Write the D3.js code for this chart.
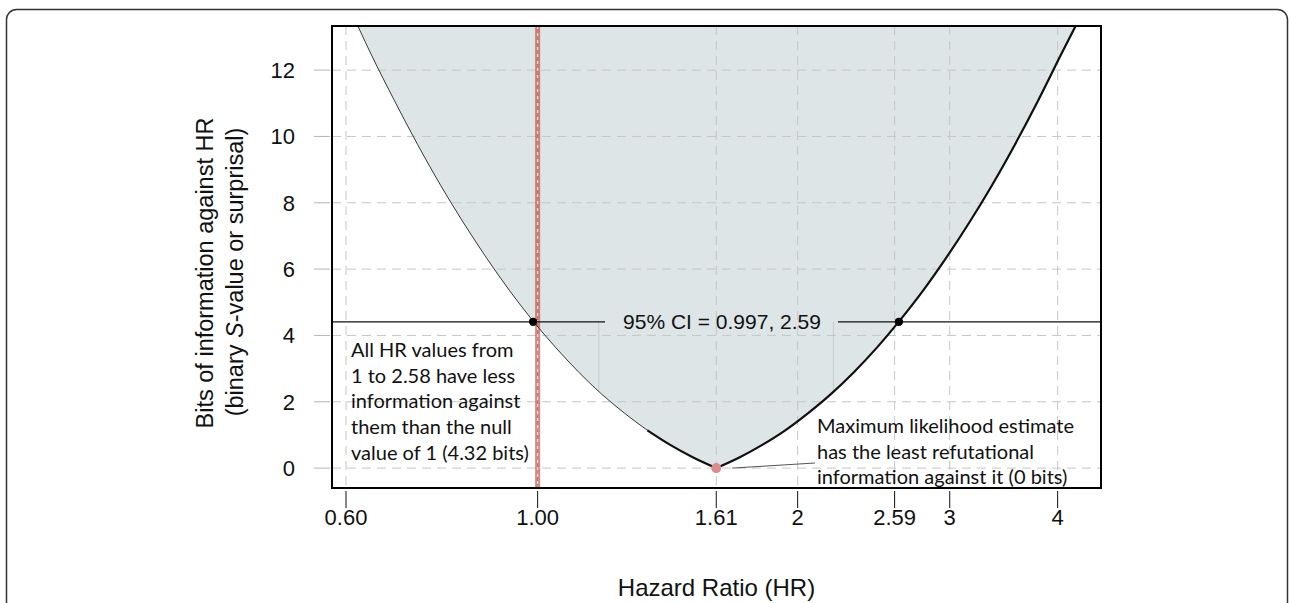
<!DOCTYPE html>
<html>
<head>
<meta charset="utf-8">
<script src="https://cdn.jsdelivr.net/npm/d3@7"></script>
<style>
    body { margin: 0; background: #fff; }
    svg text { font-family: "Liberation Sans", Arial, Helvetica, sans-serif; fill: #111; }
    .note { font-family: Lato, "Open Sans", sans-serif; font-size: 20px; }
</style>
</head>
<body>
<svg id="chart"></svg>
<script>

// S-value curve (hazard ratio, bits)
var hrValues = [0.604, 0.642, 0.683, 0.726, 0.772, 0.821, 0.873, 0.928, 0.986, 1.049, 1.115,
                1.185, 1.260, 1.340, 1.424, 1.514, 1.61, 1.712, 1.820, 1.935, 2.057, 2.187,
                2.325, 2.472, 2.628, 2.794, 2.970, 3.158, 3.358, 3.570, 3.795, 4.035, 4.315]
var bitValues = [13.95, 12.46, 11.07, 9.76, 8.53, 7.39, 6.33, 5.35, 4.46, 3.64, 2.90,
                 2.24, 1.66, 1.14, 0.70, 0.32, 0, 0.32, 0.70, 1.14, 1.66, 2.24,
                 2.90, 3.64, 4.46, 5.35, 6.33, 7.39, 8.53, 9.76, 11.07, 12.46, 13.95]

var mleHr = 1.61
var nullHr = 1
var thickFrom = 1.28
var ciBits = 4.41
var ciHr = [0.988, 2.62]
var ciLabel = "95% CI = 0.997, 2.59"
var markerHr = [1.177, 2.2]
var markerBits = [4.41, 2.31]

var xTickValues = [0.6, 1, 1.61, 2, 2.59, 3, 4]
var xTickLabels = ["0.60", "1.00", "1.61", "2", "2.59", "3", "4"]
var yTickValues = [0, 2, 4, 6, 8, 10, 12]

var leftNote = ["All HR values from", "1 to 2.58 have less", "information against",
                "them than the null", "value of 1 (4.32 bits)"]
var rightNote = ["Maximum likelihood estimate", "has the least refutational",
                 "information against it (0 bits)"]

var width = 1290, height = 603
var margin = {top: 26, left: 332, right: 189, bottom: 115}
var chartWidth = width - margin.left - margin.right
var chartHeight = height - margin.top - margin.bottom

var svg = d3.select("#chart").attr("width", width).attr("height", height)

var x = d3.scaleLog().domain([0.578, 4.49]).range([0, chartWidth])
var y = d3.scaleLinear().domain([-0.6, 13.33]).range([chartHeight, 0])

var curve = hrValues.map(function(d, i) { return {hr: d, s: bitValues[i]} })
var leftHalf = curve.filter(function(d) { return d.hr <= mleHr })
var rightHalf = curve.filter(function(d) { return d.hr >= mleHr })

// outer frame
svg.append("rect")
    .attr("x", 6.5).attr("y", 9.5)
    .attr("width", 1281).attr("height", 640)
    .attr("rx", 10)
    .attr("fill", "none")
    .attr("stroke", "#333")
    .attr("stroke-width", 1.5)

var chartLayer = svg.append("g")
    .attr("transform", "translate(" + [margin.left, margin.top] + ")")

chartLayer.append("clipPath").attr("id", "plotClip")
    .append("rect").attr("width", chartWidth).attr("height", chartHeight)

var plot = chartLayer.append("g").attr("clip-path", "url(#plotClip)")

var valueline = d3.line()
    .x(function(d) { return x(d.hr) })
    .y(function(d) { return y(d.s) })
    .curve(d3.curveMonotoneX)

// shaded region above the curve
var fillPath = valueline(leftHalf) + valueline(rightHalf).replace("M", "L") +
    "L" + [chartWidth + 5, -5] + "L" + [-5, -5] + "Z"
plot.append("path")
    .attr("d", fillPath)
    .attr("fill", "#dde5e6")

// grid
plot.selectAll(".hgrid")
    .data(yTickValues)
    .enter().append("line")
    .attr("class", "hgrid")
    .attr("x1", 0).attr("x2", chartWidth)
    .attr("y1", function(d) { return y(d) }).attr("y2", function(d) { return y(d) })
    .attr("stroke", "#c6c6c6")
    .attr("stroke-dasharray", "9,6")

plot.selectAll(".vgrid")
    .data(xTickValues)
    .enter().append("line")
    .attr("class", "vgrid")
    .attr("x1", function(d) { return x(d) }).attr("x2", function(d) { return x(d) })
    .attr("y1", 0).attr("y2", chartHeight)
    .attr("stroke", "#c6c6c6")
    .attr("stroke-dasharray", "9,6")

plot.selectAll(".marker")
    .data(markerHr)
    .enter().append("line")
    .attr("x1", function(d) { return x(d) }).attr("x2", function(d) { return x(d) })
    .attr("y1", y(markerBits[0])).attr("y2", y(markerBits[1]))
    .attr("stroke", "#bfc7c8")
    .attr("stroke-width", 0.8)

// null value bar
plot.append("rect")
    .attr("x", x(nullHr) - 2.5).attr("y", 0)
    .attr("width", 5).attr("height", chartHeight)
    .attr("fill", "#c0392b")
    .attr("opacity", 0.6)
plot.append("line")
    .attr("x1", x(nullHr)).attr("x2", x(nullHr))
    .attr("y1", 0).attr("y2", chartHeight)
    .attr("stroke", "#fff")
    .attr("stroke-opacity", 0.75)
    .attr("stroke-width", 1.3)
    .attr("stroke-dasharray", "3,4")

// curve: thin over the full range, heavier near the estimate
;[leftHalf, rightHalf].forEach(function(part) {
    plot.append("path")
        .attr("d", valueline(part))
        .attr("fill", "none")
        .attr("stroke", "#222")
        .attr("stroke-width", 0.9)
})
;[leftHalf.filter(function(d) { return d.hr >= thickFrom }), rightHalf].forEach(function(part) {
    plot.append("path")
        .attr("d", valueline(part))
        .attr("fill", "none")
        .attr("stroke", "#111")
        .attr("stroke-width", 2.2)
})

// confidence interval line with label
var ciText = chartLayer.append("text")
    .attr("x", 722 - margin.left).attr("y", y(ciBits))
    .attr("dy", "0.35em")
    .attr("text-anchor", "middle")
    .style("font-size", "21px")
    .text(ciLabel)
var box = ciText.node().getBBox()

chartLayer.append("line")
    .attr("x1", 0).attr("x2", box.x - 18)
    .attr("y1", y(ciBits)).attr("y2", y(ciBits))
    .attr("stroke", "#111").attr("stroke-width", 1.2)
chartLayer.append("line")
    .attr("x1", box.x + box.width + 17).attr("x2", chartWidth)
    .attr("y1", y(ciBits)).attr("y2", y(ciBits))
    .attr("stroke", "#111").attr("stroke-width", 1.2)

chartLayer.selectAll(".ci")
    .data(ciHr)
    .enter().append("circle")
    .attr("cx", function(d) { return x(d) })
    .attr("cy", y(ciBits))
    .attr("r", 4.2)
    .attr("fill", "#000")

// maximum likelihood estimate
chartLayer.append("line")
    .attr("x1", x(mleHr) + 16).attr("y1", y(0))
    .attr("x2", 815 - margin.left).attr("y2", 463 - margin.top)
    .attr("stroke", "#555").attr("stroke-width", 1)
chartLayer.append("circle")
    .attr("cx", x(mleHr)).attr("cy", y(0))
    .attr("r", 5)
    .attr("fill", "#dc8c8c")

// notes
chartLayer.selectAll(".leftNote")
    .data(leftNote)
    .enter().append("text")
    .attr("class", "note")
    .attr("x", 351 - margin.left)
    .attr("y", function(d, i) { return 350 - margin.top + i * 25.7 })
    .attr("dy", "0.35em")
    .text(function(d) { return d })

chartLayer.selectAll(".rightNote")
    .data(rightNote)
    .enter().append("text")
    .attr("class", "note")
    .attr("x", 817 - margin.left)
    .attr("y", function(d, i) { return 426 - margin.top + i * 25.7 })
    .attr("dy", "0.35em")
    .text(function(d) { return d })

// box
chartLayer.append("rect")
    .attr("width", chartWidth).attr("height", chartHeight)
    .attr("fill", "none")
    .attr("stroke", "#000")
    .attr("stroke-width", 2)

// y axis
chartLayer.selectAll(".ytick")
    .data(yTickValues)
    .enter().append("line")
    .attr("x1", -18).attr("x2", -2)
    .attr("y1", function(d) { return y(d) }).attr("y2", function(d) { return y(d) })
    .attr("stroke", "#b5b5b5")

chartLayer.selectAll(".ylabel")
    .data(yTickValues)
    .enter().append("text")
    .attr("x", -37)
    .attr("y", function(d) { return y(d) })
    .attr("dy", "0.36em")
    .attr("text-anchor", "end")
    .style("font-size", "22px")
    .text(function(d) { return d })

// x axis
chartLayer.selectAll(".xtick")
    .data(xTickValues)
    .enter().append("line")
    .attr("x1", function(d) { return x(d) }).attr("x2", function(d) { return x(d) })
    .attr("y1", chartHeight + 3).attr("y2", chartHeight + 20)
    .attr("stroke", "#111")

chartLayer.selectAll(".xlabel")
    .data(xTickValues)
    .enter().append("text")
    .attr("x", function(d) { return x(d) })
    .attr("y", 525 - margin.top)
    .attr("text-anchor", "middle")
    .style("font-size", "22px")
    .text(function(d, i) { return xTickLabels[i] })

svg.append("text")
    .attr("x", margin.left + chartWidth / 2)
    .attr("y", 596)
    .attr("text-anchor", "middle")
    .style("font-size", "24px")
    .text("Hazard Ratio (HR)")

svg.append("text")
    .attr("transform", "translate(213,273) rotate(-90)")
    .attr("text-anchor", "middle")
    .style("font-size", "23.5px")
    .text("Bits of information against HR")

var yTitle2 = svg.append("text")
    .attr("transform", "translate(243,272) rotate(-90)")
    .attr("text-anchor", "middle")
    .style("font-size", "23.5px")
yTitle2.append("tspan").text("(binary ")
yTitle2.append("tspan").style("font-style", "italic").text("S")
yTitle2.append("tspan").text("-value or surprisal)")

</script>
</body>
</html>
